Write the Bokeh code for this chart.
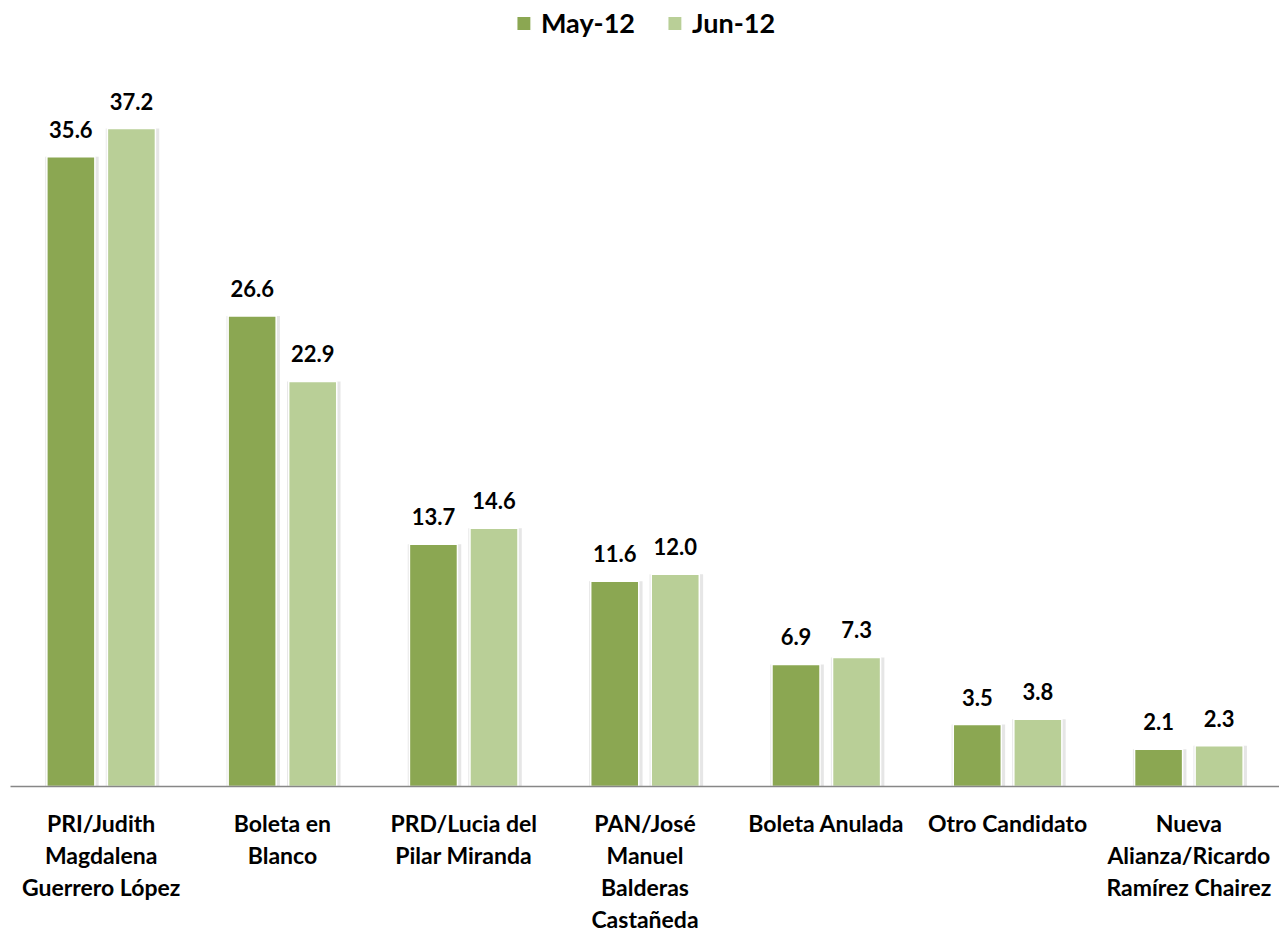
from bokeh.plotting import figure
from bokeh.models import ColumnDataSource, FactorRange, LabelSet, Legend, LegendItem
from bokeh.transform import dodge
from bokeh.core.properties import value
from bokeh.embed import file_html
from bokeh.resources import INLINE

categories = [
    "PRI/Judith\nMagdalena\nGuerrero López",
    "Boleta en\nBlanco",
    "PRD/Lucia del\nPilar Miranda",
    "PAN/José\nManuel\nBalderas\nCastañeda",
    "Boleta Anulada",
    "Otro Candidato",
    "Nueva\nAlianza/Ricardo\nRamírez Chairez",
]
may_12 = [35.6, 26.6, 13.7, 11.6, 6.9, 3.5, 2.1]
jun_12 = [37.2, 22.9, 14.6, 12.0, 7.3, 3.8, 2.3]
series_names = ["May-12", "Jun-12"]

source = ColumnDataSource(dict(
    cat=categories,
    may=may_12,
    jun=jun_12,
    may_lbl=[f"{v:.1f}" for v in may_12],
    jun_lbl=[f"{v:.1f}" for v in jun_12],
))

DARK = "#8ba752"
LIGHT = "#b9cf97"
FONT = "Lato"

p = figure(
    x_range=FactorRange(*categories, range_padding=0),
    y_range=(0, 44.44),
    width=1279, height=936,
    output_backend="svg", toolbar_location=None,
    min_border_left=10, min_border_right=0, min_border_top=0, min_border_bottom=145,
)
p.outline_line_color = None
p.background_fill_color = "white"
p.border_fill_color = "white"
p.xgrid.visible = False
p.ygrid.visible = False
p.yaxis.visible = False

off = 0.167
bw = 0.265
sw = bw + 0.03

# soft shadows
p.vbar(x=dodge("cat", -off + 0.006, range=p.x_range), top="may", width=sw, source=source,
       fill_color="#c8c8c8", fill_alpha=0.45, line_color=None)
p.vbar(x=dodge("cat", off + 0.006, range=p.x_range), top="jun", width=sw, source=source,
       fill_color="#c8c8c8", fill_alpha=0.45, line_color=None)

r1 = p.vbar(x=dodge("cat", -off, range=p.x_range), top="may", width=bw, source=source,
            fill_color=DARK, line_color="white", line_width=1.5)
r2 = p.vbar(x=dodge("cat", off, range=p.x_range), top="jun", width=bw, source=source,
            fill_color=LIGHT, line_color="white", line_width=1.5)

for field, top, o in (("may_lbl", "may", -off), ("jun_lbl", "jun", off)):
    lbl = LabelSet(x=dodge("cat", o, range=p.x_range), y=top, text=field, source=source,
                   text_align="center", text_baseline="alphabetic", y_offset=19,
                   text_font=value(FONT), text_font_style="bold", text_font_size="22px",
                   text_color="black")
    p.add_layout(lbl)

ax = p.xaxis[0]
ax.axis_line_color = "#878787"
ax.axis_line_width = 1.5
ax.major_tick_line_color = None
ax.minor_tick_line_color = None
ax.major_label_text_font = FONT
ax.major_label_text_font_style = "bold"
ax.major_label_text_font_size = "23px"
ax.major_label_text_color = "black"
ax.major_label_text_line_height = 1.15
ax.major_label_standoff = 16

legend = Legend(items=[LegendItem(label=series_names[0], renderers=[r1]),
                       LegendItem(label=series_names[1], renderers=[r2])],
                location="top_center", orientation="horizontal")
legend.border_line_color = None
legend.background_fill_alpha = 0
legend.margin = 6
legend.padding = 0
legend.glyph_width = 18
legend.glyph_height = 18
legend.label_standoff = 9
legend.spacing = 30
legend.label_text_font = FONT
legend.label_text_font_style = "bold"
legend.label_text_font_size = "27px"
legend.label_text_color = "black"
p.add_layout(legend)

open("out.html", "w").write(file_html(p, INLINE))
